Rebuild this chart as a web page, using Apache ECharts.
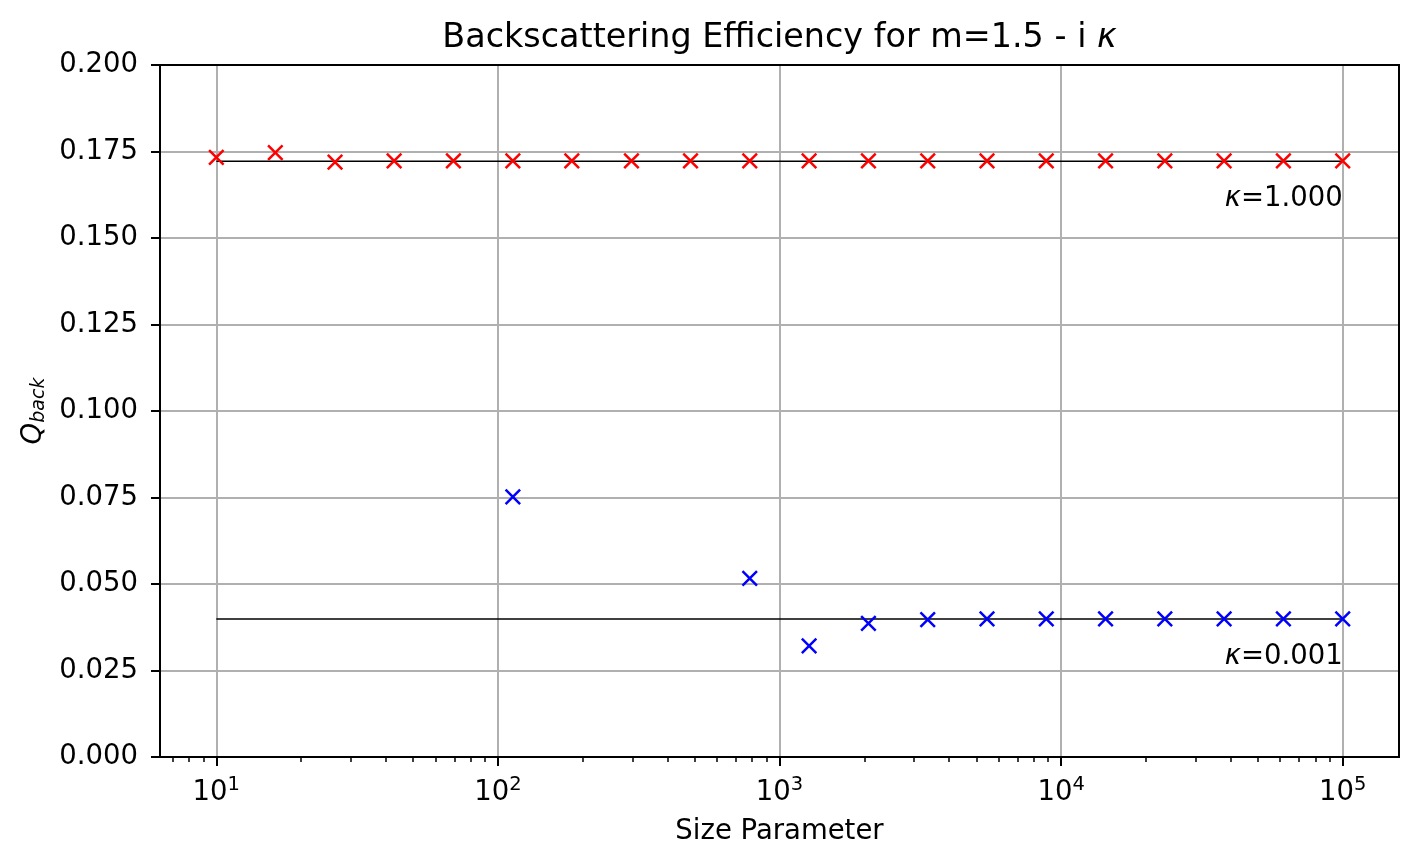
<!DOCTYPE html>
<html>
<head>
<meta charset="utf-8">
<script src="https://cdn.jsdelivr.net/npm/echarts@6/dist/echarts.min.js"></script>
<style>html,body{margin:0;padding:0;background:#fff;}#c{width:1419px;height:866px;}</style>
</head>
<body>
<div id="c"></div>
<script>
// ---- data ----
const sizeParams = [10, 16.2, 26.4, 42.8, 69.5, 113, 183, 298, 483, 784, 1274, 2069, 3360, 5456, 8859, 14384, 23357, 37927, 61585, 100000];
const qbackK1 = [0.1733, 0.1747, 0.1719, 0.1723, 0.1723, 0.1723, 0.1723, 0.1723, 0.1723, 0.1723, 0.1723, 0.1723, 0.1723, 0.1723, 0.1723, 0.1723, 0.1723, 0.1723, 0.1723, 0.1723];
const blueX = [113, 784, 1274, 2069, 3360, 5456, 8859, 14384, 23357, 37927, 61585, 100000];
const qbackK001 = [0.0752, 0.0516, 0.0321, 0.0386, 0.0397, 0.0399, 0.0399, 0.0399, 0.0399, 0.0399, 0.0399, 0.0399];
const refLineX = [10, 100000];
const refK1 = 0.1722;
const refK001 = 0.0399;
const annotX = [100000, 100000];
const annotY = [0.1613, 0.0290];
const annotText = ['=1.000', '=0.001'];
const xMajorTicks = [10, 100, 1000, 10000, 100000];
const xMin = 6.3096, xMax = 158489;
const yTicks = [0, 0.2, 0.025];

const FONT = 'DejaVu Sans';
const FS = 27.5;
const chart = echarts.init(document.getElementById('c'), null, {renderer: 'canvas'});
const xSym = 'path://M0,0L14,14M14,0L0,14';

chart.setOption({
  animation: false,
  backgroundColor: '#ffffff',
  textStyle: {fontFamily: FONT},
  title: {
    text: '{n|Backscattering Efficiency for m=1.5 - i }{k|κ}',
    left: 779.5, top: 21, textAlign: 'center', padding: 0,
    textStyle: {
      fontWeight: 'normal', fontSize: 33.4, color: '#000',
      rich: {
        n: {fontFamily: FONT, fontSize: 33.4, lineHeight: 34, fontWeight: 'normal', color: '#000'},
        k: {fontFamily: FONT, fontSize: 33.4, lineHeight: 34, fontWeight: 'normal', fontStyle: 'italic', color: '#000'}
      }
    }
  },
  grid: {left: 160, top: 65, width: 1239, height: 692, show: true, borderColor: '#000', borderWidth: 2, backgroundColor: 'transparent', z: 10},
  xAxis: {
    type: 'log', logBase: 10, min: xMin, max: xMax,
    name: 'Size Parameter', nameLocation: 'middle', nameGap: 61,
    nameTextStyle: {fontFamily: FONT, fontSize: FS, color: '#000'},
    axisLine: {show: true, onZero: false, lineStyle: {color: '#000', width: 2}},
    axisTick: {show: true, inside: false, length: 9, customValues: xMajorTicks, lineStyle: {color: '#000', width: 2}},
    minorTick: {show: true, splitNumber: 9, length: 5, lineStyle: {color: '#000', width: 1.5}},
    axisLabel: {
      show: true, margin: 18, color: '#000', customValues: xMajorTicks,
      formatter: function (v) {
        const e = Math.round(Math.log10(v));
        return '{b|10}{s|' + e + '}';
      },
      rich: {
        b: {fontFamily: FONT, fontSize: FS, color: '#000', lineHeight: 32, verticalAlign: 'bottom'},
        s: {fontFamily: FONT, fontSize: 19.5, color: '#000', lineHeight: 13, verticalAlign: 'top'}
      }
    },
    splitLine: {show: true, lineStyle: {color: '#b0b0b0', width: 2}},
    minorSplitLine: {show: false}
  },
  yAxis: {
    type: 'value', min: yTicks[0], max: yTicks[1], interval: yTicks[2],
    name: '{q|Q}{s|back}', nameLocation: 'middle', nameGap: 110, nameRotate: 90,
    nameTextStyle: {
      rich: {
        q: {fontFamily: FONT, fontSize: FS, fontStyle: 'italic', color: '#000', lineHeight: 30, verticalAlign: 'middle'},
        s: {fontFamily: FONT, fontSize: 19, fontStyle: 'italic', color: '#000', lineHeight: 11, verticalAlign: 'bottom'}
      }
    },
    axisLine: {show: true, onZero: false, lineStyle: {color: '#000', width: 2}},
    axisTick: {show: true, inside: false, length: 9, lineStyle: {color: '#000', width: 2}},
    axisLabel: {
      margin: 22, color: '#000', fontFamily: FONT, fontSize: FS,
      formatter: function (v) { return v.toFixed(3); }
    },
    splitLine: {show: true, lineStyle: {color: '#b0b0b0', width: 2}}
  },
  series: [
    {
      type: 'line', data: refLineX.map(x => [x, refK1]), symbol: 'none', silent: true,
      lineStyle: {color: '#000', width: 1.4, opacity: 1}, z: 3
    },
    {
      type: 'line', data: refLineX.map(x => [x, refK001]), symbol: 'none', silent: true,
      lineStyle: {color: '#000', width: 1.4, opacity: 1}, z: 3
    },
    {
      type: 'scatter', data: sizeParams.map((x, i) => [x, qbackK1[i]]),
      symbol: xSym, symbolSize: 14.5,
      itemStyle: {color: 'rgba(0,0,0,0)', borderColor: '#ff0000', borderWidth: 2.5, opacity: 1}, z: 4
    },
    {
      type: 'scatter', data: blueX.map((x, i) => [x, qbackK001[i]]),
      symbol: xSym, symbolSize: 14.5,
      itemStyle: {color: 'rgba(0,0,0,0)', borderColor: '#0000ff', borderWidth: 2.5, opacity: 1}, z: 4
    },
    {
      type: 'scatter', data: annotX.map((x, i) => ({value: [x, annotY[i]], txt: annotText[i]})),
      symbolSize: 0, silent: true, z: 5,
      itemStyle: {opacity: 1, color: '#000'},
      label: {
        show: true, position: 'left', distance: 0, color: '#000', opacity: 1,
        formatter: function (p) { return '{k|κ}{t|' + p.data.txt + '}'; },
        rich: {
          k: {fontFamily: FONT, fontSize: FS, fontStyle: 'italic', color: '#000'},
          t: {fontFamily: FONT, fontSize: FS, color: '#000'}
        }
      }
    }
  ]
});
</script>
</body>
</html>
